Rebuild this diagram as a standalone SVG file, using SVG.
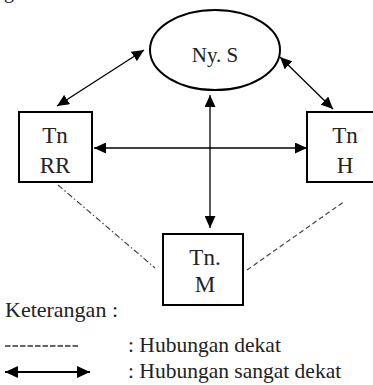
<svg xmlns="http://www.w3.org/2000/svg" width="373" height="385" viewBox="0 0 373 385">
<style>
text{font-family:"Liberation Serif","Times New Roman",serif;fill:#222}
.node{fill:#fff;stroke:#000;stroke-width:2}
.lbl{font-size:23px;text-anchor:middle}
.lg{font-size:21.5px}
.arr{stroke:#000;stroke-width:1.3;fill:none;marker-start:url(#ah);marker-end:url(#ah)}
</style>
<defs>
<marker id="ah" viewBox="0 0 12 11" refX="12" refY="5.5" markerWidth="12" markerHeight="11" markerUnits="userSpaceOnUse" orient="auto-start-reverse">
<path d="M0,0 L12,5.5 L0,11 Z" fill="#000"/>
</marker>
<marker id="ah2" viewBox="0 0 13 12" refX="13" refY="6" markerWidth="13" markerHeight="12" markerUnits="userSpaceOnUse" orient="auto-start-reverse">
<path d="M0,0 L13,6 L0,12 Z" fill="#000"/>
</marker>
</defs>
<rect width="373" height="385" fill="#fff"/>
<text x="4" y="-2" style="font-size:20px">g</text>
<g id="connectors">
<line class="arr" x1="57" y1="106" x2="144" y2="50"/>
<line class="arr" x1="280" y1="57" x2="333" y2="109"/>
<line class="arr" x1="94" y1="148" x2="307" y2="148"/>
<line class="arr" x1="210" y1="95" x2="210" y2="228"/>
<line x1="58" y1="185" x2="155" y2="268" stroke="#444" stroke-width="1.2" stroke-dasharray="6,2.5,1.5,2.5"/>
<line x1="247" y1="270" x2="345" y2="201" stroke="#444" stroke-width="1.2" stroke-dasharray="5,3"/>
</g>
<g id="nyS">
<ellipse class="node" cx="215" cy="50" rx="65" ry="40"/>
<text x="215" y="62" style="font-size:21px;text-anchor:middle">Ny. S</text>
</g>
<g id="tnRR">
<rect class="node" x="19" y="112" width="73" height="70"/>
<text class="lbl" x="55" y="143">Tn</text>
<text class="lbl" x="55" y="173">RR</text>
</g>
<g id="tnH">
<rect class="node" x="307" y="112" width="76" height="70"/>
<text class="lbl" x="345" y="143">Tn</text>
<text class="lbl" x="345" y="173">H</text>
</g>
<g id="tnM">
<rect class="node" x="163" y="234" width="80" height="71"/>
<text class="lbl" x="205" y="265">Tn.</text>
<text class="lbl" x="205" y="292">M</text>
</g>
<g id="legend">
<text x="5" y="317" style="font-size:22px">Keterangan :</text>
<line x1="5" y1="346" x2="80" y2="346" stroke="#333" stroke-width="1.3" stroke-dasharray="5.5,2"/>
<text class="lg" x="128" y="352">: Hubungan dekat</text>
<line x1="5" y1="372" x2="90" y2="372" stroke="#000" stroke-width="2.2" marker-start="url(#ah2)" marker-end="url(#ah2)"/>
<text class="lg" x="128" y="378">: Hubungan sangat dekat</text>
</g>
</svg>
